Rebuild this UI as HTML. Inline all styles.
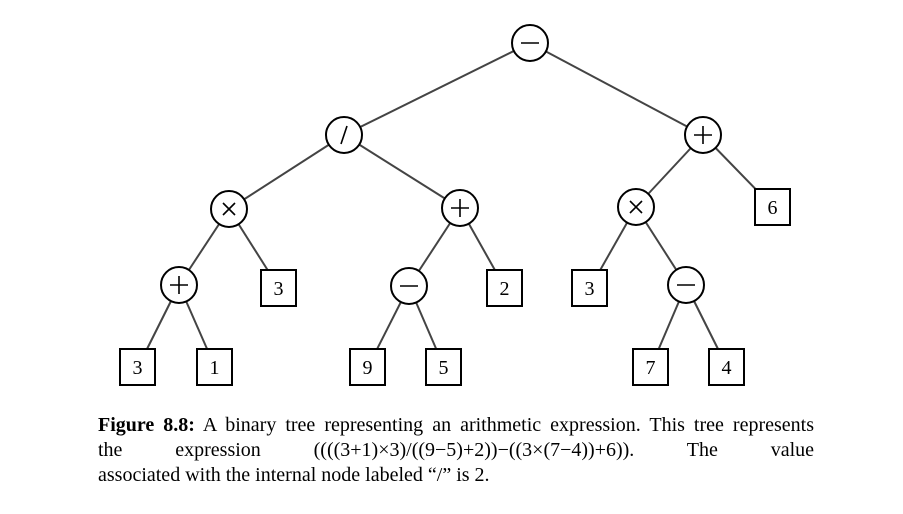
<!DOCTYPE html>
<html><head><meta charset="utf-8"><style>
body{margin:0;background:#fff;width:903px;height:514px;overflow:hidden;position:relative}
svg{position:absolute;left:0;top:0}
.cap{position:absolute;left:98px;top:413px;width:716px;font-family:"Liberation Serif",serif;font-size:20px;line-height:25px;color:#000}
.cap div{text-align:justify;text-align-last:justify;white-space:nowrap}
.cap div.l{text-align-last:left}
</style></head><body>
<svg width="903" height="514" font-family="Liberation Serif, serif">
<g stroke="#444" stroke-width="2">
<line x1="530" y1="43" x2="344" y2="135"/><line x1="530" y1="43" x2="703" y2="135"/>
<line x1="344" y1="135" x2="229" y2="209"/><line x1="344" y1="135" x2="460" y2="208"/>
<line x1="229" y1="209" x2="179" y2="285"/><line x1="229" y1="209" x2="279" y2="288"/>
<line x1="460" y1="208" x2="409" y2="286"/><line x1="460" y1="208" x2="505" y2="288"/>
<line x1="179" y1="285" x2="138" y2="367"/><line x1="179" y1="285" x2="215" y2="367"/>
<line x1="409" y1="286" x2="368" y2="367"/><line x1="409" y1="286" x2="444" y2="367"/>
<line x1="703" y1="135" x2="636" y2="207"/><line x1="703" y1="135" x2="773" y2="207"/>
<line x1="636" y1="207" x2="590" y2="288"/><line x1="636" y1="207" x2="686" y2="285"/>
<line x1="686" y1="285" x2="651" y2="367"/><line x1="686" y1="285" x2="727" y2="367"/>
</g>
<g fill="#fff" stroke="#000" stroke-width="2">
<circle cx="530" cy="43" r="18"/><circle cx="344" cy="135" r="18"/><circle cx="703" cy="135" r="18"/>
<circle cx="229" cy="209" r="18"/><circle cx="460" cy="208" r="18"/><circle cx="636" cy="207" r="18"/>
<circle cx="179" cy="285" r="18"/><circle cx="409" cy="286" r="18"/><circle cx="686" cy="285" r="18"/>
<rect x="120" y="349" width="35" height="36"/><rect x="197" y="349" width="35" height="36"/>
<rect x="350" y="349" width="35" height="36"/><rect x="426" y="349" width="35" height="36"/>
<rect x="633" y="349" width="35" height="36"/><rect x="709" y="349" width="35" height="36"/>
<rect x="261" y="270" width="35" height="36"/><rect x="487" y="270" width="35" height="36"/>
<rect x="572" y="270" width="35" height="36"/><rect x="755" y="189" width="35" height="36"/>
</g>
<g stroke="#000" stroke-width="1.6" fill="none">
<line x1="521" y1="43" x2="539" y2="43"/>
<line x1="400" y1="286" x2="418" y2="286"/>
<line x1="677" y1="285" x2="695" y2="285"/>
<path d="M694 135h18M703 126v18"/>
<path d="M451 208h18M460 199v18"/>
<path d="M170 285h18M179 276v18"/>
<path d="M223 203l12 12M235 203l-12 12"/>
<path d="M630 201l12 12M642 201l-12 12"/>
<path d="M347 126l-6 18"/>
</g>
<g font-size="20" text-anchor="middle">
<text x="137.5" y="374">3</text><text x="214.5" y="374">1</text>
<text x="367.5" y="374">9</text><text x="443.5" y="374">5</text>
<text x="650.5" y="374">7</text><text x="726.5" y="374">4</text>
<text x="278.5" y="295">3</text><text x="504.5" y="295">2</text>
<text x="589.5" y="295">3</text><text x="772.5" y="214">6</text>
</g>
</svg>
<div class="cap">
<div><b>Figure 8.8:</b> A binary tree representing an arithmetic expression. This tree represents</div>
<div>the expression ((((3+1)×3)/((9−5)+2))−((3×(7−4))+6)). The value</div>
<div class="l">associated with the internal node labeled “/” is 2.</div>
</div>
</body></html>
